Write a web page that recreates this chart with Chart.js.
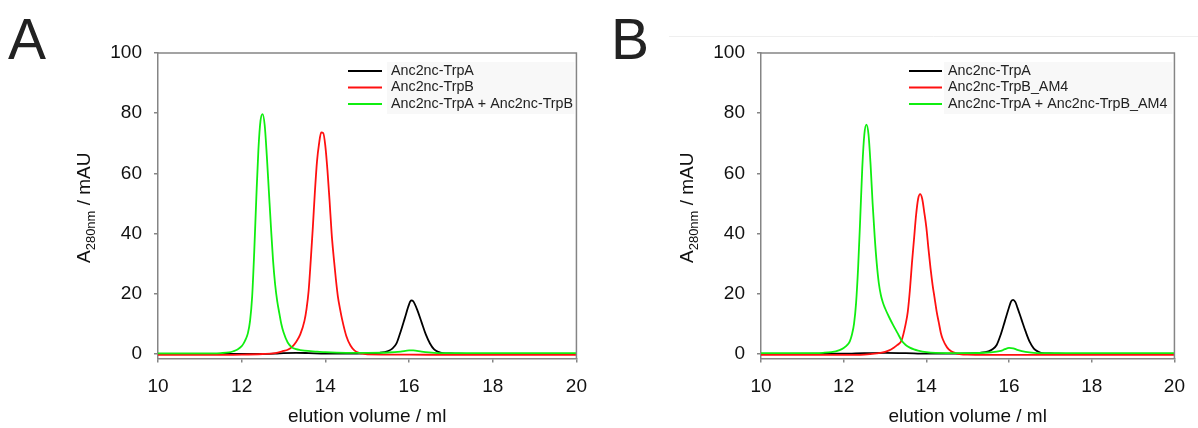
<!DOCTYPE html>
<html>
<head>
<meta charset="utf-8">
<script src="https://cdn.jsdelivr.net/npm/chart.js@4.4.1/dist/chart.umd.min.js"></script>
<style>
  html, body { margin: 0; padding: 0; background: #fff; }
  #wrap { position: relative; width: 1198px; height: 428px; overflow: hidden; }
  canvas { position: absolute; top: 0; }
</style>
</head>
<body>
<div id="wrap">
  <canvas id="panelA" width="600" height="428" style="left:0"></canvas>
  <canvas id="panelB" width="598" height="428" style="left:600px"></canvas>
</div>
<script>
// ---- axis ticks ----
const xTicks = [10, 12, 14, 16, 18, 20];
const yTicks = [0, 20, 40, 60, 80, 100];

// ---- panel A ----
const labelsA = ["Anc2nc-TrpA", "Anc2nc-TrpB", "Anc2nc-TrpA + Anc2nc-TrpB"];

const volA_trpA = [10, 12, 12.8, 13.0, 13.3, 13.6, 14.0, 14.5, 15.0, 15.3, 15.5, 15.6, 15.7, 15.8, 15.9, 16.0, 16.05, 16.1, 16.2, 16.3, 16.4, 16.5, 16.6, 16.7, 16.8, 17.0, 17.2, 18, 20];
const absA_trpA = [0, 0, 0.1, 0.3, 0.4, 0.3, 0.1, 0.1, 0.2, 0.4, 1.0, 1.8, 3.5, 7.5, 12, 16.5, 17.8, 17.5, 14.5, 10.5, 6.5, 3.5, 1.5, 0.7, 0.3, 0.2, 0.1, 0, 0];

const volA_trpB = [10, 11, 12, 12.5, 12.8, 13.0, 13.1, 13.2, 13.3, 13.4, 13.5, 13.55, 13.6, 13.65, 13.7, 13.75, 13.8, 13.85, 13.9, 13.95, 14.0, 14.05, 14.1, 14.15, 14.2, 14.25, 14.3, 14.35, 14.4, 14.5, 14.6, 14.7, 14.8, 14.9, 15.0, 16, 17, 18, 20];
const absA_trpB = [-0.3, -0.3, -0.2, 0, 0.3, 1.0, 1.4, 2.3, 4.0, 6.5, 11, 15, 21, 31, 42, 54, 64, 70, 73.6, 73.4, 69, 61, 51, 40, 32, 25, 19, 15, 11.5, 6, 2.8, 1.1, 0.4, 0.1, -0.1, -0.2, -0.3, -0.3, -0.3];

const volA_mix = [10, 11, 11.5, 11.7, 11.8, 11.9, 12.0, 12.05, 12.1, 12.15, 12.2, 12.25, 12.3, 12.35, 12.4, 12.45, 12.5, 12.55, 12.6, 12.65, 12.7, 12.75, 12.8, 12.85, 12.9, 12.95, 13.0, 13.1, 13.2, 13.3, 13.4, 13.5, 13.8, 14.0, 14.5, 15.0, 15.5, 15.8, 16.0, 16.1, 16.3, 16.6, 17, 18, 19, 20];
const absA_mix = [0.2, 0.2, 0.3, 0.5, 0.9, 1.5, 2.6, 3.6, 5.0, 7, 11, 19, 34, 52, 68, 77.5, 79.7, 76, 66, 54, 42, 31, 23, 17.5, 13.5, 9.8, 7.2, 3.8, 2.2, 1.6, 1.3, 1.1, 0.8, 0.6, 0.4, 0.4, 0.5, 0.8, 1.2, 1.2, 0.8, 0.4, 0.3, 0.3, 0.3, 0.3];

// ---- panel B ----
const labelsB = ["Anc2nc-TrpA", "Anc2nc-TrpB_AM4", "Anc2nc-TrpA + Anc2nc-TrpB_AM4"];

const volB_trpA = [10, 12, 12.5, 13.0, 13.5, 14.0, 14.5, 15.0, 15.3, 15.5, 15.6, 15.7, 15.8, 15.9, 16.0, 16.05, 16.1, 16.15, 16.2, 16.3, 16.4, 16.5, 16.6, 16.7, 16.8, 17.0, 17.2, 18, 20];
const absB_trpA = [0, 0.1, 0.3, 0.4, 0.3, 0.1, 0.1, 0.2, 0.4, 0.9, 1.6, 3.0, 6.5, 11, 15.5, 17.5, 18, 17.3, 15.5, 11.5, 7.5, 4, 1.8, 0.8, 0.3, 0.2, 0.1, 0, 0];

const volB_trpB = [10, 12, 12.5, 12.8, 13.0, 13.1, 13.2, 13.3, 13.4, 13.5, 13.55, 13.6, 13.65, 13.7, 13.75, 13.8, 13.85, 13.9, 13.95, 14.0, 14.05, 14.1, 14.15, 14.2, 14.25, 14.3, 14.35, 14.4, 14.5, 14.6, 14.7, 14.8, 15.0, 16, 18, 20];
const absB_trpB = [-0.3, -0.3, -0.2, 0.2, 0.7, 1.2, 2.0, 3.0, 4.5, 10, 14, 21, 30, 38, 46, 51.5, 53.1, 51.5, 47, 42, 35, 28.5, 23, 18.5, 14, 10.5, 7, 4.8, 2.2, 0.9, 0.3, 0, -0.2, -0.3, -0.3, -0.3];

const volB_mix = [10, 11, 11.5, 11.7, 11.9, 12.0, 12.1, 12.15, 12.2, 12.25, 12.3, 12.35, 12.4, 12.45, 12.5, 12.55, 12.6, 12.65, 12.7, 12.75, 12.8, 12.85, 12.9, 12.95, 13.0, 13.1, 13.2, 13.3, 13.4, 13.5, 13.6, 13.7, 13.8, 14.0, 14.5, 15.0, 15.5, 15.8, 15.9, 16.0, 16.1, 16.2, 16.4, 16.6, 17, 18, 20];
const absB_mix = [0.3, 0.3, 0.4, 0.6, 1.3, 2.0, 3.2, 4.3, 6.5, 10, 17, 29, 45, 62, 73, 76.2, 73, 63, 50, 39, 30, 23.5, 19.5, 17, 15.2, 12.2, 9.5, 7, 4.5, 3.0, 2.1, 1.5, 1.1, 0.6, 0.3, 0.3, 0.5, 1.0, 1.6, 2.0, 1.9, 1.4, 0.7, 0.4, 0.3, 0.3, 0.3];

const seriesColors = ["#000000", "#ff1010", "#10ee10"];
const FONT = "'Liberation Sans', Arial, sans-serif";
const axisGray = "#858585";

/* ---- frame, y title, legend, panel letter ---- */
const decorPlugin = {
  id: "decor",
  afterDraw(chart, args, opts) {
    const ctx = chart.ctx;
    const a = chart.chartArea;
    ctx.save();

    // top + right frame
    ctx.strokeStyle = axisGray;
    ctx.lineWidth = 1.5;
    ctx.beginPath();
    ctx.moveTo(a.left, a.top);
    ctx.lineTo(a.right, a.top);
    ctx.lineTo(a.right, a.bottom);
    ctx.stroke();

    // faint rule across top (panel B only)
    if (opts.rule) {
      ctx.strokeStyle = "#efefef";
      ctx.lineWidth = 1;
      ctx.beginPath();
      ctx.moveTo(opts.rule[0], opts.rule[2]);
      ctx.lineTo(opts.rule[1], opts.rule[2]);
      ctx.stroke();
    }

    // panel letter
    ctx.fillStyle = "#222";
    ctx.font = "57px " + FONT;
    ctx.textBaseline = "alphabetic";
    ctx.textAlign = "left";
    ctx.fillText(opts.letter, opts.letterX, 59);

    // y title with subscript
    ctx.translate(a.left - 68, (a.top + a.bottom) / 2 + 2);
    ctx.rotate(-Math.PI / 2);
    const big = "19px " + FONT, small = "13px " + FONT;
    ctx.font = big; const w1 = ctx.measureText("A").width;
    const w3 = ctx.measureText(" / mAU").width;
    ctx.font = small; const w2 = ctx.measureText("280nm").width;
    let x = -(w1 + w2 + w3) / 2;
    ctx.fillStyle = "#111";
    ctx.font = big; ctx.fillText("A", x, 0); x += w1;
    ctx.font = small; ctx.fillText("280nm", x, 5); x += w2;
    ctx.font = big; ctx.fillText(" / mAU", x, 0);
    ctx.restore();

    // legend
    ctx.save();
    const lg = opts.legend;
    ctx.fillStyle = "#f8f8f8";
    ctx.fillRect(lg.textX - 4, lg.y0 - 9, a.right - lg.textX + 2, lg.step * 2 + 19);
    ctx.font = "14.3px " + FONT;
    ctx.textBaseline = "middle";
    chart.data.datasets.forEach((ds, i) => {
      const y = lg.y0 + i * lg.step;
      ctx.strokeStyle = ds.borderColor;
      ctx.lineWidth = 1.8;
      ctx.beginPath();
      ctx.moveTo(lg.x0, y);
      ctx.lineTo(lg.x1, y);
      ctx.stroke();
      ctx.fillStyle = "#222";
      ctx.fillText(ds.label, lg.textX, y);
    });
    ctx.restore();
  }
};

function renderPanel(canvasId, labels, xs, ys, box) {
  const datasets = labels.map((label, i) => ({
    label,
    data: xs[i].map((v, j) => ({ x: v, y: ys[i][j] })),
    borderColor: seriesColors[i],
    borderWidth: 1.8,
    pointRadius: 0,
    fill: false,
    cubicInterpolationMode: "monotone",
    order: labels.length - 1 - i
  }));

  const tickFont = { family: FONT, size: 19 };

  return new Chart(document.getElementById(canvasId), {
    type: "line",
    data: { datasets },
    options: {
      responsive: false,
      animation: false,
      events: [],
      layout: { padding: { top: 53, right: box.right, left: 0, bottom: 0 } },
      plugins: {
        legend: { display: false },
        tooltip: { enabled: false },
        decor: box.decor
      },
      scales: {
        x: {
          type: "linear",
          min: 10,
          max: 20,
          afterBuildTicks(s) { s.ticks = xTicks.map(v => ({ value: v })); },
          ticks: { font: tickFont, color: "#111", padding: 13, maxRotation: 0 },
          grid: { drawOnChartArea: false, drawTicks: true, tickLength: 4, color: axisGray, lineWidth: 1.5 },
          border: { color: axisGray, width: 1.5 },
          title: {
            display: true,
            text: "elution volume / ml",
            font: { family: FONT, size: 19 },
            color: "#111",
            padding: { top: 0, bottom: 0 }
          },
          afterFit(s) { s.height = 69.5; }
        },
        y: {
          type: "linear",
          min: -1.5,
          max: 100,
          afterBuildTicks(s) { s.ticks = yTicks.map(v => ({ value: v })); },
          ticks: { font: tickFont, color: "#111", padding: 12 },
          grid: { drawOnChartArea: false, drawTicks: true, tickLength: 4, color: axisGray, lineWidth: 1.5 },
          border: { color: axisGray, width: 1.5 },
          afterFit(s) { s.width = box.left; }
        }
      }
    },
    plugins: [decorPlugin]
  });
}

renderPanel("panelA", labelsA,
  [volA_trpA, volA_trpB, volA_mix],
  [absA_trpA, absA_trpB, absA_mix],
  {
    left: 158, right: 18,
    decor: { letter: "A", letterX: 8, legend: { x0: 348, x1: 382, textX: 391, y0: 71, step: 16.5 } }
  });

renderPanel("panelB", labelsB,
  [volB_trpA, volB_trpB, volB_mix],
  [absB_trpA, absB_trpB, absB_mix],
  {
    left: 161, right: 13,
    decor: { letter: "B", letterX: 11, rule: [69, 598, 36.5], legend: { x0: 309, x1: 342, textX: 348, y0: 71, step: 16.5 } }
  });
</script>
</body>
</html>
